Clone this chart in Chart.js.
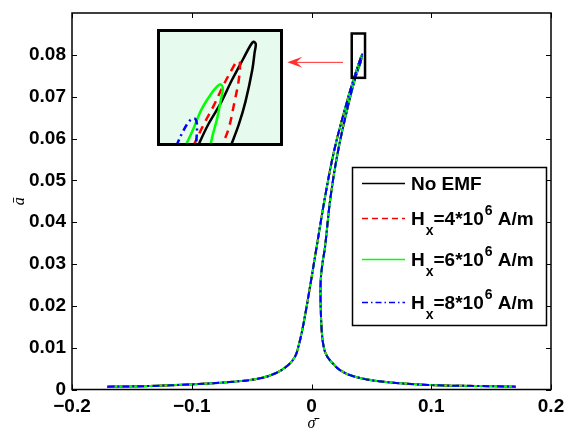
<!DOCTYPE html>
<html><head><meta charset="utf-8">
<script src="https://cdn.jsdelivr.net/npm/chart.js@4.4.0/dist/chart.umd.min.js"></script>
<style>
html,body{margin:0;padding:0;background:#fff;}
#wrap{position:relative;width:564px;height:433px;overflow:hidden;}
#main{position:absolute;left:0;top:0;}
#inset{position:absolute;left:157px;top:29px;}
</style></head><body>
<div id="wrap"><canvas id="main" width="564" height="433"></canvas><canvas id="inset" width="126" height="117"></canvas></div>
<script>
// ---- data ----
const seriesLabels = ['No EMF', 'H_x=4*10^6 A/m', 'H_x=6*10^6 A/m', 'H_x=8*10^6 A/m'];
const seriesColors = ['#000000', '#ff0000', '#00ff00', '#0000ff'];
const xTicks = [-0.2, -0.1, 0, 0.1, 0.2];
const yTicks = [0, 0.01, 0.02, 0.03, 0.04, 0.05, 0.06, 0.07, 0.08];

// main curve (all four cases coincide at this scale)
const sigmaMain = [-0.1705, -0.135, -0.100, -0.0653, -0.0430, -0.0291, -0.0194, -0.0138, -0.0110, -0.0077, -0.0027, 0.0043, 0.0113, 0.0190, 0.0299, 0.0358, 0.0421,
                   0.0412, 0.0367, 0.0316, 0.0223, 0.0159, 0.0113, 0.0092, 0.0077, 0.0076, 0.0085, 0.0099, 0.0120, 0.0154, 0.0238, 0.0363, 0.0600, 0.0990, 0.1380, 0.1705];
const aMain     = [0.00068, 0.00084, 0.00124, 0.00186, 0.00267, 0.00401, 0.00585, 0.00783, 0.0102, 0.0142, 0.0221, 0.0341, 0.0460, 0.0572, 0.0691, 0.0747, 0.0800,
                   0.0785, 0.0746, 0.0691, 0.0572, 0.0460, 0.0341, 0.0302, 0.0261, 0.0210, 0.0142, 0.0106, 0.0085, 0.0070, 0.00465, 0.00305, 0.00186, 0.00107, 0.00084, 0.00068];

// inset (zoomed tips)
const sigmaTip0 = [0.0372, 0.0381, 0.0392, 0.0402, 0.0412, 0.0418, 0.0421, 0.0423, 0.0422, 0.0420, 0.0414, 0.0408, 0.0401];
const aTip0     = [0.0750, 0.0760, 0.0770, 0.0781, 0.0791, 0.0797, 0.0799, 0.0798, 0.0794, 0.0786, 0.0771, 0.0760, 0.0750];
const sigmaTip4 = [0.0368, 0.0377, 0.0386, 0.0394, 0.0403, 0.0407, 0.0409, 0.0408, 0.0404, 0.0399, 0.0393];
const aTip4     = [0.0750, 0.0760, 0.0769, 0.0778, 0.0787, 0.0790, 0.0789, 0.0781, 0.0770, 0.0758, 0.0750];
const sigmaTip6 = [0.0361, 0.0368, 0.0375, 0.0383, 0.0389, 0.0392, 0.0394, 0.0392, 0.0389, 0.0385, 0.0383];
const aTip6     = [0.0750, 0.0758, 0.0767, 0.0774, 0.0778, 0.0779, 0.0777, 0.0771, 0.0763, 0.0755, 0.0750];
const sigmaTip8 = [0.0353, 0.0359, 0.0365, 0.0369, 0.0371, 0.0371, 0.0370];
const aTip8     = [0.0750, 0.0757, 0.0762, 0.0763, 0.0761, 0.0755, 0.0750];

const zoomBoxX = [0.0336, 0.0447];
const zoomBoxY = [0.0745, 0.0851];
const insetX = [0.0336, 0.0447];
const insetY = [0.0750, 0.0805];
const arrowFrom = [0.0263, 0.0782];
const arrowTo = [-0.0202, 0.0782];

// ---- helpers ----
const pts = (xs, ys) => xs.map((v, i) => ({x: v, y: ys[i]}));
const mainDash = [[], [8, 5], [], [7, 3, 2, 3]];
const insetDash = [[], [8, 6], [], [7, 4, 2, 4]];
const legendDash = [[], [6, 4], [], [6, 3, 1.5, 3]];
const SANS = '"Liberation Sans", Arial, Helvetica, sans-serif';
const SERIF = '"Liberation Serif", "DejaVu Serif", serif';

function drawRichText(ctx, str, x, y, size) {
  // supports single-char _sub and ^sup
  let cx = x;
  let i = 0;
  while (i < str.length) {
    const c = str[i];
    if ((c === '_' || c === '^') && i + 1 < str.length) {
      const s = str[i + 1];
      ctx.font = 'bold ' + Math.round(size * 0.72) + 'px ' + SANS;
      const dy = c === '_' ? size * 0.52 : -size * 0.56;
      ctx.fillText(s, cx + 1, y + dy);
      cx += ctx.measureText(s).width + 1;
      i += 2;
    } else {
      let j = i;
      while (j < str.length && str[j] !== '_' && str[j] !== '^') j++;
      const t = str.slice(i, j);
      ctx.font = 'bold ' + size + 'px ' + SANS;
      ctx.fillText(t, cx, y);
      cx += ctx.measureText(t).width;
      i = j;
    }
  }
}

const framePlugin = {
  id: 'frame',
  afterDraw(chart) {
    const {ctx, chartArea: a, scales: {x, y}} = chart;
    ctx.save();
    ctx.strokeStyle = '#000';
    ctx.lineWidth = 1;
    const tl = 5;
    ctx.beginPath();
    xTicks.forEach(v => {
      const p = Math.round(x.getPixelForValue(v)) + 0.5;
      ctx.moveTo(p, a.bottom); ctx.lineTo(p, a.bottom - tl);
      ctx.moveTo(p, a.top); ctx.lineTo(p, a.top + tl);
    });
    yTicks.forEach(v => {
      const p = Math.round(y.getPixelForValue(v)) + 0.5;
      ctx.moveTo(a.left, p); ctx.lineTo(a.left + tl, p);
      ctx.moveTo(a.right, p); ctx.lineTo(a.right - tl, p);
    });
    ctx.stroke();
    ctx.lineWidth = 1.5;
    ctx.strokeRect(a.left, a.top, a.right - a.left, a.bottom - a.top);

    // zoom rectangle
    const zx0 = x.getPixelForValue(zoomBoxX[0]), zx1 = x.getPixelForValue(zoomBoxX[1]);
    const zy0 = y.getPixelForValue(zoomBoxY[0]), zy1 = y.getPixelForValue(zoomBoxY[1]);
    ctx.lineWidth = 2.5;
    ctx.strokeRect(zx0, zy1, zx1 - zx0, zy0 - zy1);

    // arrow
    const ax0 = x.getPixelForValue(arrowFrom[0]), ay0 = y.getPixelForValue(arrowFrom[1]);
    const ax1 = x.getPixelForValue(arrowTo[0]), ay1 = y.getPixelForValue(arrowTo[1]);
    ctx.strokeStyle = '#ff3030';
    ctx.fillStyle = '#ff3030';
    ctx.lineWidth = 1;
    ctx.beginPath(); ctx.moveTo(ax0, ay0); ctx.lineTo(ax1 + 6, ay1); ctx.stroke();
    ctx.beginPath();
    ctx.moveTo(ax1, ay1);
    ctx.lineTo(ax1 + 15, ay1 - 5.5);
    ctx.lineTo(ax1 + 9, ay1);
    ctx.lineTo(ax1 + 15, ay1 + 5.5);
    ctx.closePath();
    ctx.fill();

    // legend
    const bx0 = 352.5, by0 = 167.5, bx1 = 546.5, by1 = 325.5;
    ctx.fillStyle = '#fff';
    ctx.fillRect(bx0, by0, bx1 - bx0, by1 - by0);
    ctx.strokeStyle = '#000';
    ctx.lineWidth = 1.5;
    ctx.strokeRect(bx0, by0, bx1 - bx0, by1 - by0);
    const rowY = [183.5, 218.5, 259.5, 302.5];
    chart.data.datasets.forEach((ds, i) => {
      const ry = rowY[i];
      ctx.strokeStyle = ds.borderColor;
      ctx.lineWidth = 1.6;
      ctx.setLineDash(legendDash[i]);
      ctx.beginPath(); ctx.moveTo(362, ry); ctx.lineTo(405, ry); ctx.stroke();
      ctx.setLineDash([]);
      ctx.fillStyle = '#000';
      ctx.textBaseline = 'alphabetic';
      ctx.textAlign = 'left';
      drawRichText(ctx, ds.label, 411, ry + 6.8, 19);
    });
    ctx.restore();
  }
};

const datasetsMain = seriesLabels.map((lab, i) => ({
  label: lab,
  data: pts(sigmaMain, aMain),
  showLine: true,
  borderColor: seriesColors[i],
  backgroundColor: seriesColors[i],
  borderWidth: 2,
  borderDash: mainDash[i],
  pointRadius: 0,
  tension: 0.4,
  fill: false,
  order: 4 - i
}));

const tickFont = {family: SANS, size: 19, weight: 'bold'};

new Chart(document.getElementById('main'), {
  type: 'scatter',
  data: {datasets: datasetsMain},
  options: {
    responsive: false, animation: false, devicePixelRatio: 1, events: [],
    layout: {padding: {top: 13, right: 13, left: 0, bottom: 0}},
    plugins: {legend: {display: false}, tooltip: {enabled: false}},
    scales: {
      x: {
        type: 'linear', min: -0.2, max: 0.2,
        afterBuildTicks: s => { s.ticks = xTicks.map(v => ({value: v})); },
        afterFit: s => { s.height = 43.5; s.paddingLeft = 0; s.paddingRight = 0; },
        grid: {display: false, drawTicks: false},
        border: {display: false},
        ticks: {font: tickFont, color: '#000', padding: 6, maxRotation: 0,
          callback: v => v < 0 ? '\u2212' + String(Math.abs(+v.toFixed(2))) : String(+v.toFixed(2))},
        title: {display: true, text: 'σ̄', color: '#000', font: {family: SERIF, size: 16, style: 'italic'}, padding: {top: 0, bottom: 0}}
      },
      y: {
        type: 'linear', min: 0, max: 0.09,
        afterBuildTicks: s => { s.ticks = yTicks.map(v => ({value: v})); },
        afterFit: s => { s.width = 72; s.paddingTop = 0; s.paddingBottom = 0; },
        grid: {display: false, drawTicks: false},
        border: {display: false},
        ticks: {font: tickFont, color: '#000', padding: 6,
          callback: v => String(+v.toFixed(2))},
        title: {display: true, text: 'ā', color: '#000', font: {family: SERIF, size: 16, style: 'italic'}, padding: {top: 10, bottom: 0}}
      }
    }
  },
  plugins: [framePlugin]
});

// ---- inset ----
const tipX = [sigmaTip0, sigmaTip4, sigmaTip6, sigmaTip8];
const tipY = [aTip0, aTip4, aTip6, aTip8];
const insetPlugin = {
  id: 'insetFrame',
  beforeDraw(chart) {
    const {ctx, width, height} = chart;
    ctx.save(); ctx.fillStyle = '#e6faee'; ctx.fillRect(0, 0, width, height); ctx.restore();
  },
  afterDraw(chart) {
    const {ctx, width, height} = chart;
    ctx.save(); ctx.strokeStyle = '#000'; ctx.lineWidth = 3;
    ctx.strokeRect(1.5, 1.5, width - 3, height - 3); ctx.restore();
  }
};
new Chart(document.getElementById('inset'), {
  type: 'scatter',
  data: {datasets: seriesLabels.map((lab, i) => ({
    label: lab, data: pts(tipX[i], tipY[i]), showLine: true,
    borderColor: seriesColors[i], borderWidth: 2.5, borderDash: insetDash[i],
    pointRadius: 0, tension: 0.35, fill: false, order: 4 - i, clip: 0
  }))},
  options: {
    responsive: false, animation: false, devicePixelRatio: 1, events: [],
    layout: {padding: 0},
    plugins: {legend: {display: false}, tooltip: {enabled: false}},
    scales: {
      x: {display: false, type: 'linear', min: insetX[0], max: insetX[1]},
      y: {display: false, type: 'linear', min: insetY[0], max: insetY[1]}
    }
  },
  plugins: [insetPlugin]
});
</script>
</body></html>
